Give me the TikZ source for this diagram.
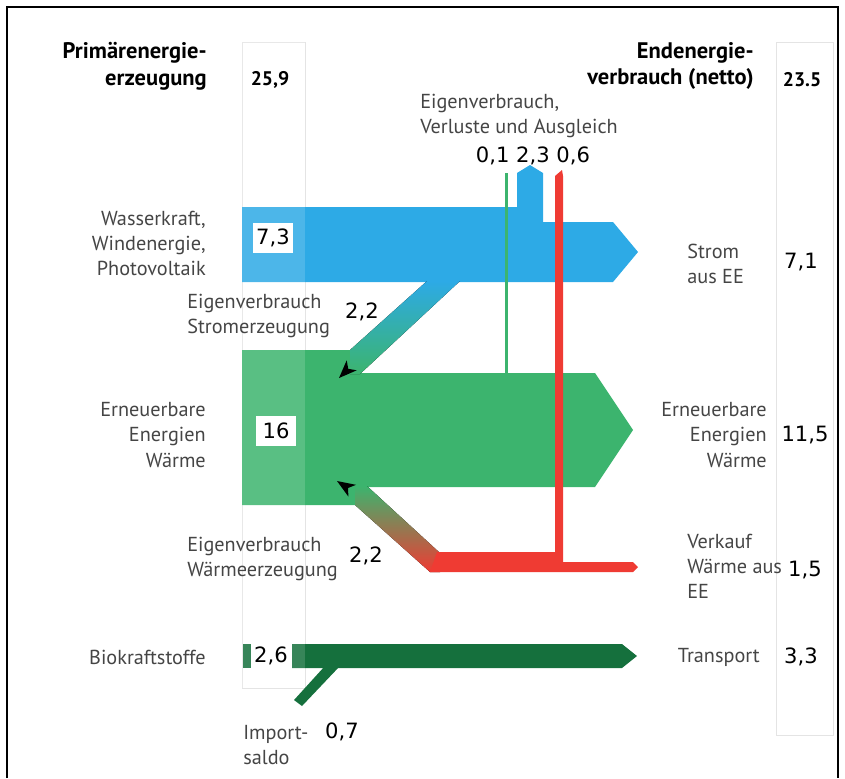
\documentclass[tikz,border=0pt]{standalone}
\usepackage{fontspec}
\setmainfont{PT Sans}
\newfontfamily\numfont{DejaVu Sans}
\definecolor{stromblue}{HTML}{2DAAE6}
\definecolor{waermegreen}{HTML}{3CB46E}
\definecolor{biogreen}{HTML}{15703D}
\definecolor{verkaufred}{HTML}{EF3B33}
\definecolor{labelgray}{HTML}{454545}
\definecolor{colgray}{HTML}{E4E4E4}
\tikzset{
  lbl/.style={text=labelgray,font=\fontsize{14.4}{17.8}\selectfont,inner sep=0pt},
  num/.style={font=\numfont\fontsize{15}{18}\selectfont,inner sep=0pt},
  head/.style={font=\bfseries\fontsize{16}{19}\selectfont,inner sep=0pt},
  headnum/.style={font=\bfseries\fontsize{14}{17}\selectfont,inner sep=0pt},
  valbox/.style={num,fill=white,minimum width=29pt,minimum height=21pt}
}
\begin{document}
\begin{tikzpicture}[x=0.025cm,y=-0.025cm]
  \useasboundingbox (0,0) rectangle (845,778);
  \draw[line width=1pt] (7,778) -- (7,7) -- (838,7) -- (838,778);
  \draw[colgray] (242,42) rectangle (305,688);
  \draw[colgray] (776,42) rectangle (833,735);

  \fill[stromblue] (242,207) -- (517,207) -- (517,173) -- (530,165) -- (543,173) -- (543,222)
    -- (613,222) -- (638,252) -- (613,282) -- (242,282) -- cycle;
  \fill[waermegreen] (242,350) -- (350,350) -- (350,373) -- (595,373) -- (633,430)
    -- (595,487) -- (367,487) -- (355,505) -- (242,505) -- cycle;
  \fill[top color=stromblue,bottom color=waermegreen] (427,281) -- (460,281) -- (360,374)
    -- (350,374) -- (350,350) -- cycle;
  \fill[top color=waermegreen,middle color={rgb,255:red,205;green,140;blue,65},bottom color=verkaufred]
    (355,486) -- (367,486) -- (440,553) -- (440,572) -- (430,572) -- (355,505) -- cycle;
  \fill[verkaufred] (437,552) -- (555,552) -- (555,176) -- (562,170) -- (563,176) -- (563,562)
    -- (633,562) -- (638,567) -- (633,572) -- (430,572) -- cycle;
  \fill[waermegreen] (505,173) rectangle (508,373);
  \fill[biogreen] (243,644) rectangle (251,668);
  \fill[biogreen] (292,644) -- (622,644) -- (637,656) -- (622,668) -- (292,668) -- cycle;
  \fill[biogreen] (294,700) -- (302,706) -- (339,667) -- (324,667) -- cycle;
  \fill[white,opacity=0.15] (242,42) rectangle (305,688);

  \fill (339,378) -- (356.7,370.3) -- (348.2,368.8) -- (346.7,360.3) -- cycle;
  \fill (337,481) -- (348.4,496.6) -- (348.0,488.0) -- (356.0,484.8) -- cycle;

  \node[head,anchor=east,align=right] (prim) at (207,66) {Primärenergie-\\erzeugung};
  \node[headnum] (primval) at (270,80) {25,9};
  \node[head,anchor=east,align=right] (end) at (754,66) {Endenergie-\\verbrauch (netto)};
  \node[headnum] (endval) at (802,80) {23.5};

  \node[lbl,anchor=east,align=right] (wasser) at (206,243) {Wasserkraft,\\Windenergie,\\Photovoltaik};
  \node[valbox] (wasserval) at (273,238) {7,3};
  \node[lbl,anchor=west,align=left] (eigstrom) at (187,316) {Eigenverbrauch\\Stromerzeugung};
  \node[num] (eigstromval) at (362,312) {2,2};
  \node[lbl,anchor=east,align=right] (ee) at (206,435) {Erneuerbare\\Energien\\Wärme};
  \node[valbox] (eeval) at (276,431) {16};
  \node[lbl,anchor=west,align=left] (eigwaerme) at (187,559) {Eigenverbrauch\\Wärmeerzeugung};
  \node[num] (eigwaermeval) at (366,556) {2,2};
  \node[lbl,anchor=east] (bio) at (206,657) {Biokraftstoffe};
  \node[num] (bioval) at (271,656) {2,6};
  \node[lbl,anchor=west,align=left] (import) at (243,745) {Import-\\saldo};
  \node[num] (importval) at (342,732) {0,7};

  \node[lbl,anchor=west,align=left] (verluste) at (420,116) {Eigenverbrauch,\\Verluste und Ausgleich};
  \node[num] (verlusteval) at (533,156) {0,1 2,3 0,6};

  \node[lbl,anchor=west,align=left] (strom) at (687,264) {Strom\\aus EE};
  \node[num] (stromval) at (801,262) {7,1};
  \node[lbl,anchor=east,align=right] (eeend) at (767,435) {Erneuerbare\\Energien\\Wärme};
  \node[num] (eeendval) at (805,435) {11,5};
  \node[lbl,anchor=west,align=left] (verkauf) at (687,566) {Verkauf\\Wärme aus\\EE};
  \node[num] (verkaufval) at (805,570) {1,5};
  \node[lbl,anchor=east] (transport) at (760,657) {Transport};
  \node[num] (transportval) at (801,657) {3,3};
\end{tikzpicture}
\end{document}
